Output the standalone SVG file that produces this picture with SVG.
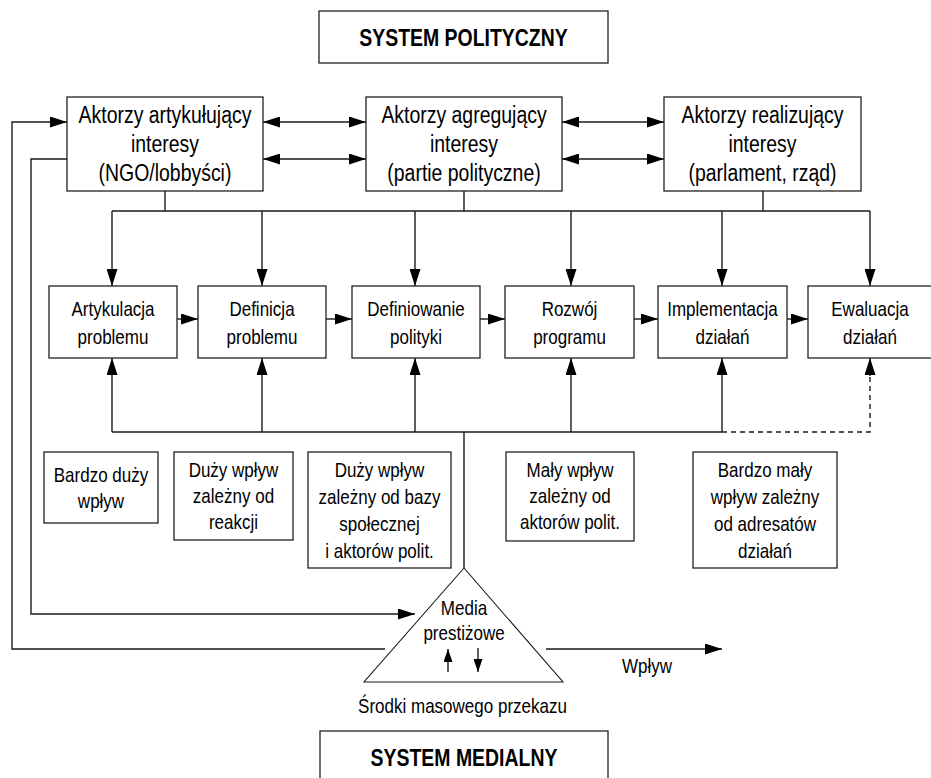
<svg xmlns="http://www.w3.org/2000/svg" width="931" height="778" viewBox="0 0 931 778">
<defs>
<style>
.box{fill:#fff;stroke:#222;stroke-width:1.3}
.ln{fill:none;stroke:#1a1a1a;stroke-width:1.4}
.dash{fill:none;stroke:#1a1a1a;stroke-width:1.4;stroke-dasharray:5,4}
.t{font-family:"Liberation Sans",Arial,sans-serif;fill:#000;text-anchor:middle}
.a{font-size:24px}
.p{font-size:21px}
.b{font-size:24px;font-weight:bold}
</style>
<marker id="ah" viewBox="0 0 17 11" refX="17" refY="5.5" markerWidth="17" markerHeight="11" markerUnits="userSpaceOnUse" orient="auto-start-reverse">
<path d="M0,0 L17,5.5 L0,11 Z" fill="#000"/>
</marker>
<marker id="sh" viewBox="0 0 13 9" refX="13" refY="4.5" markerWidth="13" markerHeight="9" markerUnits="userSpaceOnUse" orient="auto">
<path d="M0,0 L13,4.5 L0,9 Z" fill="#000"/>
</marker>
</defs>
<rect width="931" height="778" fill="#fff"/>

<g id="connectors">
<!-- double arrows between actors -->
<line class="ln" x1="263" y1="122" x2="366" y2="122" marker-start="url(#ah)" marker-end="url(#ah)"/>
<line class="ln" x1="263" y1="159" x2="366" y2="159" marker-start="url(#ah)" marker-end="url(#ah)"/>
<line class="ln" x1="562" y1="122" x2="664" y2="122" marker-start="url(#ah)" marker-end="url(#ah)"/>
<line class="ln" x1="562" y1="159" x2="664" y2="159" marker-start="url(#ah)" marker-end="url(#ah)"/>
<!-- top bus -->
<line class="ln" x1="165" y1="191" x2="165" y2="211"/>
<line class="ln" x1="464" y1="191" x2="464" y2="211"/>
<line class="ln" x1="763" y1="191" x2="763" y2="211"/>
<line class="ln" x1="112" y1="211" x2="870" y2="211"/>
<line class="ln" x1="112" y1="211" x2="112" y2="286" marker-end="url(#ah)"/>
<line class="ln" x1="262" y1="211" x2="262" y2="286" marker-end="url(#ah)"/>
<line class="ln" x1="415" y1="211" x2="415" y2="286" marker-end="url(#ah)"/>
<line class="ln" x1="571" y1="211" x2="571" y2="286" marker-end="url(#ah)"/>
<line class="ln" x1="722" y1="211" x2="722" y2="286" marker-end="url(#ah)"/>
<line class="ln" x1="870" y1="211" x2="870" y2="286" marker-end="url(#ah)"/>
<!-- process chain -->
<line class="ln" x1="177" y1="319" x2="198" y2="319" marker-end="url(#ah)"/>
<line class="ln" x1="326" y1="319" x2="352" y2="319" marker-end="url(#ah)"/>
<line class="ln" x1="480" y1="319" x2="505" y2="319" marker-end="url(#ah)"/>
<line class="ln" x1="634" y1="319" x2="658" y2="319" marker-end="url(#ah)"/>
<line class="ln" x1="787" y1="319" x2="808" y2="319" marker-end="url(#ah)"/>
<!-- bottom bus -->
<line class="ln" x1="112" y1="432" x2="722" y2="432"/>
<line class="ln" x1="112" y1="432" x2="112" y2="358" marker-end="url(#ah)"/>
<line class="ln" x1="262" y1="432" x2="262" y2="358" marker-end="url(#ah)"/>
<line class="ln" x1="415" y1="432" x2="415" y2="358" marker-end="url(#ah)"/>
<line class="ln" x1="571" y1="432" x2="571" y2="358" marker-end="url(#ah)"/>
<line class="ln" x1="722" y1="432" x2="722" y2="358" marker-end="url(#ah)"/>
<path class="dash" d="M722,432 H870 V375"/>
<line class="ln" x1="870" y1="376" x2="870" y2="358" marker-end="url(#ah)"/>
<line class="ln" x1="464" y1="432" x2="464" y2="568"/>
<!-- feedback loops -->
<path class="ln" d="M385,649 H12 V122 H67" marker-end="url(#ah)"/>
<path class="ln" d="M67,159 H31 V614 H415" marker-end="url(#ah)"/>
<line class="ln" x1="546" y1="649" x2="722" y2="649" marker-end="url(#ah)"/>
<!-- arrows inside triangle -->
<line class="ln" x1="448" y1="672" x2="448" y2="649" marker-end="url(#sh)"/>
<line class="ln" x1="478" y1="648" x2="478" y2="672" marker-end="url(#sh)"/>
</g>

<g id="system-polityczny">
<rect class="box" x="319" y="11" width="289" height="52"/>
<text class="t b" transform="matrix(0.81 0 0 1 463.5 0)" x="0" y="46.5">SYSTEM POLITYCZNY</text>
</g>

<g id="aktorzy-artykulujacy">
<rect class="box" x="67" y="97" width="196" height="94"/>
<text class="t a" transform="matrix(0.81 0 0 1 165 0)"><tspan x="0" y="123.5">Aktorzy artykułujący</tspan><tspan x="0" y="152.5">interesy</tspan><tspan x="0" y="181.5">(NGO/lobbyści)</tspan></text>
</g>
<g id="aktorzy-agregujacy">
<rect class="box" x="366" y="97" width="196" height="94"/>
<text class="t a" transform="matrix(0.81 0 0 1 464 0)"><tspan x="0" y="123.5">Aktorzy agregujący</tspan><tspan x="0" y="152.5">interesy</tspan><tspan x="0" y="181.5">(partie polityczne)</tspan></text>
</g>
<g id="aktorzy-realizujacy">
<rect class="box" x="664" y="97" width="197" height="94"/>
<text class="t a" transform="matrix(0.81 0 0 1 762.5 0)"><tspan x="0" y="123.5">Aktorzy realizujący</tspan><tspan x="0" y="152.5">interesy</tspan><tspan x="0" y="181.5">(parlament, rząd)</tspan></text>
</g>

<g id="artykulacja">
<rect class="box" x="49" y="286" width="128" height="72"/>
<text class="t p" transform="matrix(0.81 0 0 1 113 0)"><tspan x="0" y="316.5">Artykulacja</tspan><tspan x="0" y="344.5">problemu</tspan></text>
</g>
<g id="definicja">
<rect class="box" x="198" y="286" width="128" height="72"/>
<text class="t p" transform="matrix(0.81 0 0 1 262 0)"><tspan x="0" y="316.5">Definicja</tspan><tspan x="0" y="344.5">problemu</tspan></text>
</g>
<g id="definiowanie">
<rect class="box" x="352" y="286" width="128" height="72"/>
<text class="t p" transform="matrix(0.81 0 0 1 416 0)"><tspan x="0" y="316.5">Definiowanie</tspan><tspan x="0" y="344.5">polityki</tspan></text>
</g>
<g id="rozwoj">
<rect class="box" x="505" y="286" width="129" height="72"/>
<text class="t p" transform="matrix(0.81 0 0 1 569.5 0)"><tspan x="0" y="316.5">Rozwój</tspan><tspan x="0" y="344.5">programu</tspan></text>
</g>
<g id="implementacja">
<rect class="box" x="658" y="286" width="129" height="72"/>
<text class="t p" transform="matrix(0.81 0 0 1 722.5 0)"><tspan x="0" y="316.5">Implementacja</tspan><tspan x="0" y="344.5">działań</tspan></text>
</g>
<g id="ewaluacja">
<rect class="box" x="808" y="286" width="128" height="72"/>
<text class="t p" transform="matrix(0.81 0 0 1 870 0)"><tspan x="0" y="316.5">Ewaluacja</tspan><tspan x="0" y="344.5">działań</tspan></text>
</g>

<g id="wplyw-1">
<rect class="box" x="44" y="452" width="114" height="71"/>
<text class="t p" transform="matrix(0.81 0 0 1 101 0)"><tspan x="0" y="482">Bardzo duży</tspan><tspan x="0" y="508">wpływ</tspan></text>
</g>
<g id="wplyw-2">
<rect class="box" x="174" y="452" width="119" height="88"/>
<text class="t p" transform="matrix(0.81 0 0 1 233.5 0)"><tspan x="0" y="477">Duży wpływ</tspan><tspan x="0" y="503">zależny od</tspan><tspan x="0" y="529">reakcji</tspan></text>
</g>
<g id="wplyw-3">
<rect class="box" x="308" y="452" width="143" height="116"/>
<text class="t p" transform="matrix(0.81 0 0 1 379.5 0)"><tspan x="0" y="477">Duży wpływ</tspan><tspan x="0" y="504">zależny od bazy</tspan><tspan x="0" y="531">społecznej</tspan><tspan x="0" y="558">i aktorów polit.</tspan></text>
</g>
<g id="wplyw-4">
<rect class="box" x="506" y="452" width="128" height="89"/>
<text class="t p" transform="matrix(0.81 0 0 1 570 0)"><tspan x="0" y="477">Mały wpływ</tspan><tspan x="0" y="503">zależny od</tspan><tspan x="0" y="529">aktorów polit.</tspan></text>
</g>
<g id="wplyw-5">
<rect class="box" x="693" y="452" width="144" height="116"/>
<text class="t p" transform="matrix(0.81 0 0 1 765 0)"><tspan x="0" y="477">Bardzo mały</tspan><tspan x="0" y="504">wpływ zależny</tspan><tspan x="0" y="531">od adresatów</tspan><tspan x="0" y="558">działań</tspan></text>
</g>

<g id="media-prestizowe">
<path d="M464,568 L364,682 L563,682 Z" fill="none" stroke="#1a1a1a" stroke-width="1.1"/>
<text class="t p" transform="matrix(0.81 0 0 1 464 0)"><tspan x="0" y="615">Media</tspan><tspan x="0" y="640">prestiżowe</tspan></text>
</g>

<g id="wplyw-label">
<text class="t p" transform="matrix(0.81 0 0 1 647 0)" x="0" y="673">Wpływ</text>
</g>

<g id="srodki">
<text class="t p" transform="matrix(0.81 0 0 1 462.5 0)" x="0" y="713">Środki masowego przekazu</text>
</g>

<g id="system-medialny">
<rect class="box" x="320" y="731" width="288" height="60"/>
<text class="t b" transform="matrix(0.81 0 0 1 464 0)" x="0" y="766">SYSTEM MEDIALNY</text>
</g>
</svg>
